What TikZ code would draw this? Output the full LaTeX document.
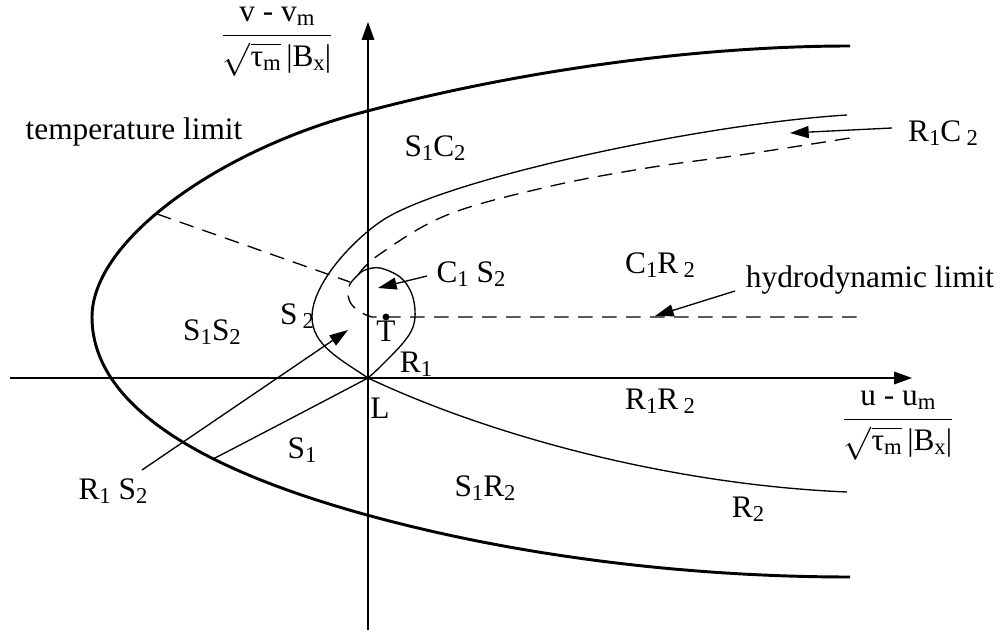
\documentclass[tikz,border=0pt]{standalone}
\usepackage{amsmath}
\usepackage{fontspec}
\setmainfont{Liberation Serif}
\usetikzlibrary{arrows.meta}

% lowered small index, as in S1, R2
\newcommand{\ix}[1]{\raisebox{-3pt}{\fontsize{17}{17}\selectfont #1}}

\begin{document}
\begin{tikzpicture}[
    x=0.75pt, y=-0.75pt,
    font=\fontsize{23.5}{27}\selectfont,
    thickcurve/.style={line width=2.2pt},
    thincurve/.style={line width=1pt},
    dashedcurve/.style={line width=1pt, dash pattern=on 11pt off 7pt},
    axis/.style={line width=1pt, -{Triangle[length=13.5pt, width=9.5pt]}},
    arrow/.style={line width=1pt, -{Triangle[length=14pt, width=9pt]}},
    lbl/.style={inner sep=0pt}
]
    \useasboundingbox (0,0) rectangle (1007,634);

    % axes
    \coordinate (xstart) at (10,378);
    \coordinate (xend) at (912,378);
    \coordinate (ystart) at (368,630);
    \coordinate (yend) at (368,22);
    \coordinate (L) at (368,378);
    \draw[axis] (xstart) -- (xend);
    \draw[axis] (ystart) -- (yend);

    % temperature limit
    \draw[thickcurve] (850,46) .. controls (700,46) and (520,70) .. (360,113)
        .. controls (220,150) and (92,240) .. (92,317)
        .. controls (92,420) and (240,480) .. (367,515)
        .. controls (527,559) and (700,577) .. (850,577);

    % upper branch and S2 loop
    \draw[thincurve] (847,115) .. controls (700,124) and (440,180) .. (380,222)
        .. controls (350,243) and (312,285) .. (312,317)
        .. controls (312,345) and (340,359) .. (L);
    % small loop round T
    \draw[thincurve] plot[smooth, tension=0.6] coordinates {
        (L) (381,366) (403,343) (413,327) (415,310) (411,292) (400,277)
        (380,268) (365,270) (358,275)};
    % lower branches
    \draw[thincurve] (L) .. controls (500,440) and (680,485) .. (847,492);
    \draw[thincurve] (L) .. controls (330,398) and (250,440) .. (213,459);

    % dashed boundaries
    \draw[dashedcurve] plot[smooth, tension=0.6] coordinates {
        (358,275) (350,284) (348,295) (352,305) (362,313) (372,317)}
        -- (858,317);
    \draw[dashedcurve] plot[smooth, tension=0.6] coordinates {
        (358,275) (380,254) (447,215) (547,187) (647,168) (747,154)
        (850,138)};
    \draw[dashedcurve] (157,214) -- (350,282);

    % point T
    \fill (386,317) circle (2.6pt);

    % axis labels
    \node[lbl] (ylab) at (277,42)
        {$\dfrac{\text{v - v\ix{m}}}{\sqrt{\text{τ\ix{m}}}\,\text{|B\ix{x}|}}$};
    \node[lbl] (xlab) at (898,426)
        {$\dfrac{\text{u - u\ix{m}}}{\sqrt{\text{τ\ix{m}}}\,\text{|B\ix{x}|}}$};

    % region labels
    \node[lbl] (templim) at (134,132) {temperature limit};
    \node[lbl] (s1c2) at (435,148) {S\ix{1}C\ix{2}};
    \node[lbl] (r1c2) at (943,133) {R\ix{1}C\,\ix{2}};
    \node[lbl] (c1s2) at (471,274) {C\ix{1} S\ix{2}};
    \node[lbl] (c1r2) at (660,265) {C\ix{1}R\,\ix{2}};
    \node[lbl] (hydro) at (870,280) {hydrodynamic limit};
    \node[lbl] (s2) at (297,316) {S\,\ix{2}};
    \node[lbl] (s1s2) at (212,332) {S\ix{1}S\ix{2}};
    \node[lbl] (T) at (386,331) {T};
    \node[lbl] (r1) at (416,364) {R\ix{1}};
    \node[lbl] (Llab) at (380,408) {L};
    \node[lbl] (r1r2) at (660,401) {R\ix{1}R\,\ix{2}};
    \node[lbl] (s1) at (302,450) {S\ix{1}};
    \node[lbl] (s1r2) at (485,488) {S\ix{1}R\ix{2}};
    \node[lbl] (r2) at (748,509) {R\ix{2}};
    \node[lbl] (r1s2) at (113,491) {R\ix{1} S\ix{2}};

    % pointers
    \coordinate (r1c2 tail) at (892,128);
    \coordinate (r1c2 tip) at (790,133);
    \coordinate (c1s2 tail) at (427,276);
    \coordinate (c1s2 tip) at (378,288);
    \coordinate (hydro tail) at (735,291);
    \coordinate (hydro tip) at (655,316);
    \coordinate (r1s2 tail) at (142,470);
    \coordinate (r1s2 tip) at (348,330);
    \draw[arrow] (r1c2 tail) -- (r1c2 tip);
    \draw[arrow] (c1s2 tail) -- (c1s2 tip);
    \draw[arrow] (hydro tail) -- (hydro tip);
    \draw[arrow] (r1s2 tail) -- (r1s2 tip);
\end{tikzpicture}
\end{document}
